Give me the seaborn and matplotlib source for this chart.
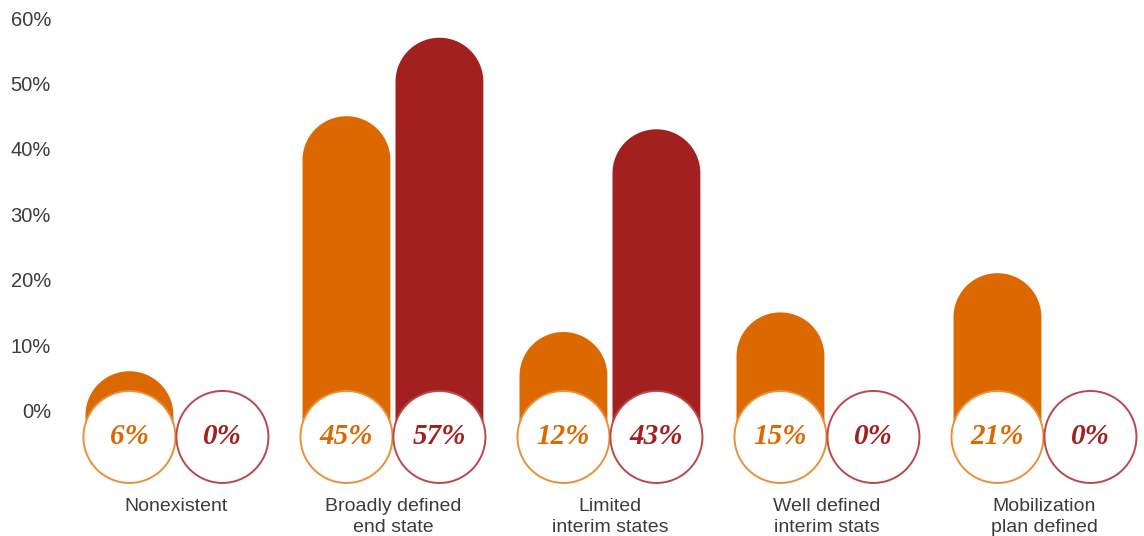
import numpy as np
import pandas as pd
import matplotlib
matplotlib.use("Agg")
import matplotlib.pyplot as plt
import seaborn as sns
from matplotlib.patches import Ellipse, PathPatch, Rectangle
from matplotlib.path import Path

# ---- data -------------------------------------------------------------
categories = [
    "Nonexistent",
    "Broadly defined\nend state",
    "Limited\ninterim states",
    "Well defined\ninterim stats",
    "Mobilization\nplan defined",
]
series_names = ["series_1", "series_2"]
series_1_values = [6, 45, 12, 15, 21]
series_2_values = [0, 57, 43, 0, 0]
y_tick_values = [0, 10, 20, 30, 40, 50, 60]

# ---- styling ----------------------------------------------------------
bar_colors = ["#DC6900", "#A32020"]
ring_colors = ["#E8903A", "#B9474C"]
text_gray = "#3C3C3C"

sns.set_style("white")
plt.rcParams["font.family"] = ["Liberation Sans", "DejaVu Sans"]

df = pd.DataFrame({
    "category": categories * 2,
    "series": [series_names[0]] * len(categories) + [series_names[1]] * len(categories),
    "value": series_1_values + series_2_values,
})

W, H = 1144, 536
fig = plt.figure(figsize=(W / 100, H / 100), dpi=100)
left_px, bottom_px = 62, 46
ax = fig.add_axes([left_px / W, bottom_px / H, 1 - left_px / W, 1 - bottom_px / H])

sns.barplot(
    data=df, x="category", y="value", hue="series",
    palette=bar_colors, saturation=1, width=0.857, gap=0.055,
    dodge=True, legend=False, ax=ax, errorbar=None,
)

xlim = (-0.525, 4.461)
ylim = (-12.16, 62.77)
ax.set_xlim(*xlim)
ax.set_ylim(*ylim)

# pixel scale of each data unit, used to keep caps and rings circular
ax_w_px = W - left_px
ax_h_px = H - bottom_px
px_per_x = ax_w_px / (xlim[1] - xlim[0])
px_per_y = ax_h_px / (ylim[1] - ylim[0])

ring_center_y = -4.05          # centre of the value rings (data units)
ring_r_px = 46
ring_rx = ring_r_px / px_per_x
ring_ry = ring_r_px / px_per_y

bars = list(ax.patches)
n_cat = len(categories)
for i, bar in enumerate(bars):
    s = i // n_cat
    x0, w, h = bar.get_x(), bar.get_width(), bar.get_height()
    xc = x0 + w / 2
    bar.remove()

    # bar with a semicircular top: straight sides + half ellipse in data units
    cap_ry = (w / 2) * px_per_x / px_per_y
    arc_y = h - cap_ry
    theta = np.linspace(np.pi, 0, 60)
    arc = np.column_stack([xc + (w / 2) * np.cos(theta), arc_y + cap_ry * np.sin(theta)])
    lo = min(ring_center_y, arc_y)
    verts = np.vstack([[x0, lo], arc, [x0 + w, lo], [x0, lo]])
    codes = [Path.MOVETO] + [Path.LINETO] * (len(verts) - 2) + [Path.CLOSEPOLY]
    shape = PathPatch(Path(verts, codes), facecolor=bar_colors[s], edgecolor="none", zorder=2)
    ax.add_patch(shape)
    clip = Rectangle((x0 - w, ring_center_y), 3 * w, 200, transform=ax.transData)
    shape.set_clip_path(clip)

    ring = Ellipse((xc, ring_center_y), 2 * ring_rx, 2 * ring_ry,
                   facecolor="white", edgecolor=ring_colors[s], lw=1.4,
                   zorder=3, clip_on=False)
    ax.add_patch(ring)
    ax.text(xc, ring_center_y, f"{h:.0f}%", ha="center", va="center",
            family=["Liberation Serif", "DejaVu Serif"], fontweight="bold",
            style="italic", fontsize=21, color=bar_colors[s], zorder=4)

ax.set_yticks(y_tick_values)
ax.set_yticklabels([f"{v}%" for v in y_tick_values])
ax.tick_params(axis="y", length=0, pad=8, labelsize=14.5, labelcolor=text_gray)
ax.tick_params(axis="x", length=0, pad=6, labelsize=14, labelcolor=text_gray)
ax.set_xticks(range(n_cat))
ax.set_xticklabels(categories, linespacing=1.3)
ax.set_xlabel("")
ax.set_ylabel("")
for sp in ax.spines.values():
    sp.set_visible(False)

fig.savefig("out.png", dpi=100, facecolor="white")
